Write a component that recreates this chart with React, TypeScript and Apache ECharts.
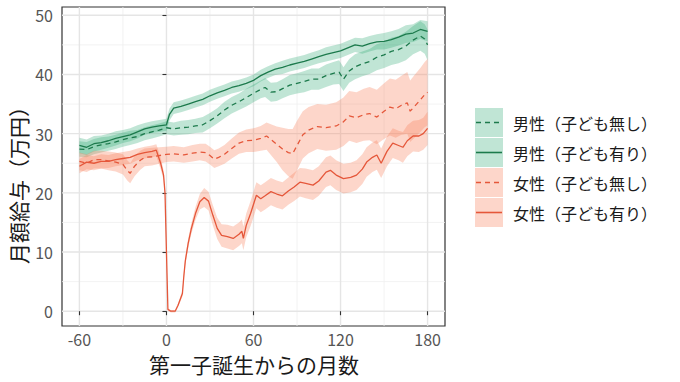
import React, { useEffect, useRef } from "react";
import * as echarts from "echarts";

// [month since first birth, monthly wage (10k yen), half-width of confidence band]
type Pt = [number, number, number];

const maleNoKids: Pt[] = [
  [-60, 27.4, 1.3], [-55, 27.3, 1.3], [-50, 27.8, 1.3], [-45, 28.1, 1.3], [-40, 28.3, 1.2],
  [-35, 28.6, 1.2], [-30, 29.0, 1.2], [-25, 29.3, 1.2], [-20, 29.5, 1.1], [-15, 30.0, 1.1],
  [-10, 30.3, 1.1], [-5, 30.6, 1.1], [0, 31.0, 1.1], [5, 30.8, 1.1], [10, 31.0, 1.2],
  [15, 31.1, 1.2], [20, 31.3, 1.2], [25, 31.5, 1.3], [30, 32.2, 1.3], [35, 33.0, 1.3],
  [40, 34.0, 1.4], [45, 34.8, 1.4], [50, 35.4, 1.4], [55, 36.1, 1.5], [60, 36.8, 1.5],
  [65, 37.5, 1.5], [68, 37.8, 1.6], [72, 37.0, 1.6], [76, 37.1, 1.6], [80, 37.6, 1.6],
  [85, 38.2, 1.7], [90, 38.5, 1.7], [95, 38.8, 1.8], [100, 39.2, 1.8], [105, 39.2, 1.8],
  [110, 39.8, 1.9], [115, 40.2, 1.9], [119, 40.4, 2.0], [122, 39.2, 2.0], [126, 40.6, 2.0],
  [130, 41.3, 2.1], [135, 41.8, 2.1], [140, 42.2, 2.1], [145, 42.9, 2.2], [150, 43.3, 2.2],
  [155, 43.9, 2.3], [160, 44.2, 2.3], [165, 44.8, 2.4], [170, 45.8, 2.4], [175, 46.5, 2.5],
  [178, 46.0, 2.5], [180, 45.0, 2.6],
];

const maleWithKids: Pt[] = [
  [-60, 28.0, 1.3], [-55, 27.7, 1.3], [-50, 28.3, 1.3], [-45, 28.5, 1.2], [-40, 28.8, 1.2],
  [-35, 29.2, 1.2], [-30, 29.5, 1.1], [-25, 29.8, 1.1], [-20, 30.3, 1.1], [-15, 30.8, 1.0],
  [-10, 31.1, 1.0], [-5, 31.3, 1.0], [0, 31.5, 1.0], [2, 33.2, 1.0], [5, 34.3, 1.0],
  [10, 34.6, 1.0], [15, 35.0, 1.0], [20, 35.4, 1.0], [25, 35.8, 1.0], [30, 36.4, 1.0],
  [35, 36.9, 1.0], [40, 37.3, 1.0], [45, 37.8, 1.0], [50, 38.1, 1.0], [55, 38.5, 1.0],
  [60, 39.0, 1.0], [65, 39.8, 1.0], [70, 40.4, 1.0], [75, 40.9, 1.0], [80, 41.2, 1.1],
  [85, 41.6, 1.1], [90, 41.9, 1.1], [95, 42.2, 1.1], [100, 42.6, 1.1], [105, 43.0, 1.1],
  [110, 43.4, 1.2], [115, 43.7, 1.2], [120, 44.0, 1.2], [125, 44.5, 1.2], [130, 45.0, 1.2],
  [135, 44.8, 1.3], [140, 45.2, 1.3], [145, 45.5, 1.3], [150, 45.6, 1.4], [155, 45.9, 1.4],
  [160, 46.3, 1.4], [165, 46.8, 1.5], [170, 47.0, 1.5], [175, 47.6, 1.6], [180, 47.3, 1.7],
];

const femaleNoKids: Pt[] = [
  [-60, 25.3, 1.5], [-55, 25.0, 1.5], [-50, 25.6, 1.5], [-45, 25.6, 1.5], [-40, 25.4, 1.6],
  [-35, 25.2, 1.6], [-30, 24.8, 1.7], [-27, 23.8, 1.7], [-25, 23.3, 1.7], [-22, 24.5, 1.7],
  [-18, 25.5, 1.6], [-15, 26.0, 1.5], [-10, 26.1, 1.5], [-5, 26.3, 1.4], [0, 26.5, 1.3],
  [5, 26.6, 1.3], [12, 26.4, 1.3], [18, 26.7, 1.4], [23, 26.9, 1.4], [27, 26.8, 1.5],
  [30, 26.3, 1.5], [33, 25.7, 1.5], [36, 26.0, 1.5], [40, 26.5, 1.6], [45, 27.5, 1.7],
  [50, 28.4, 1.8], [55, 28.8, 1.9], [60, 28.9, 2.0], [65, 29.2, 2.1], [69, 29.6, 2.3],
  [72, 29.0, 2.6], [76, 28.2, 3.0], [80, 27.4, 3.6], [84, 26.8, 4.0], [87, 26.6, 4.2],
  [90, 28.0, 4.2], [94, 29.8, 4.0], [98, 30.6, 3.9], [104, 31.2, 3.8], [110, 31.0, 3.9],
  [117, 31.3, 4.0], [122, 32.0, 4.1], [126, 33.0, 4.2], [131, 32.7, 4.3], [136, 33.2, 4.4],
  [140, 33.4, 4.5], [145, 32.8, 4.6], [150, 33.8, 4.7], [154, 34.5, 4.8], [158, 34.2, 4.9],
  [162, 34.8, 5.0], [166, 35.2, 5.2], [168, 33.8, 5.2], [171, 34.6, 5.3], [175, 35.7, 5.4],
  [178, 36.6, 5.5], [180, 37.0, 5.6],
];

const femaleWithKids: Pt[] = [
  [-60, 24.5, 1.2], [-55, 25.2, 1.2], [-50, 25.0, 1.2], [-45, 25.3, 1.2], [-40, 25.3, 1.1],
  [-35, 25.6, 1.1], [-30, 25.8, 1.1], [-25, 26.0, 1.1], [-20, 26.5, 1.0], [-15, 26.8, 1.0],
  [-10, 27.0, 1.0], [-7, 27.2, 1.0], [-4, 25.0, 1.0], [-2, 23.0, 0.8], [-1, 20.0, 0.6],
  [0, 10.0, 0.4], [1, 0.3, 0.2], [3, 0.0, 0.2], [6, 0.0, 0.2], [8, 1.0, 0.3],
  [11, 3.0, 0.5], [12, 6.0, 0.6], [13, 8.5, 0.7], [15, 11.5, 0.8], [17, 13.8, 0.9],
  [20, 16.5, 1.1], [23, 18.5, 1.3], [26, 19.2, 1.6], [29, 18.6, 1.6], [32, 16.2, 1.7],
  [35, 14.0, 1.8], [38, 12.8, 1.9], [42, 12.6, 2.0], [46, 12.3, 2.0], [50, 13.0, 2.0],
  [52, 13.5, 2.0], [53, 12.3, 2.0], [55, 14.5, 2.0], [58, 16.5, 2.1], [62, 19.6, 2.2],
  [65, 19.0, 2.3], [68, 19.5, 2.3], [72, 20.2, 2.3], [76, 19.8, 2.3], [80, 19.5, 2.3],
  [84, 20.3, 2.3], [88, 21.0, 2.4], [92, 21.8, 2.4], [96, 21.6, 2.5], [101, 21.3, 2.5],
  [105, 22.0, 2.5], [110, 23.5, 2.5], [113, 23.8, 2.5], [117, 23.0, 2.5], [122, 22.4, 2.5],
  [127, 22.6, 2.5], [131, 23.0, 2.5], [135, 24.0, 2.5], [138, 25.2, 2.5], [142, 26.0, 2.5],
  [145, 26.4, 2.5], [148, 25.0, 2.5], [152, 27.0, 2.5], [156, 28.4, 2.5], [160, 28.0, 2.5],
  [163, 27.7, 2.6], [166, 28.8, 2.6], [170, 29.6, 2.6], [174, 29.6, 2.7], [177, 30.0, 2.7],
  [180, 30.9, 2.8],
];

const seriesNames = ["男性（子ども無し）", "男性（子ども有り）", "女性（子ども無し）", "女性（子ども有り）"];
const xTicks = [-60, 0, 60, 120, 180];
const xMinor = [-30, 30, 90, 150];
const yTicks = [0, 10, 20, 30, 40, 50];
const yMinor = [5, 15, 25, 35, 45];
const xTitle = "第一子誕生からの月数";
const yTitle = "月額給与（万円）";

const X_MIN = -72;
const X_MAX = 192;
const Y_MIN = -2.5;
const Y_MAX = 51.4;

const GREEN = "#1c7a4c";
const RED = "#e5573a";
const GREEN_FILL = "rgba(45,168,115,0.3)";
const RED_FILL = "rgba(248,130,95,0.33)";
const FONT = "'Noto Sans CJK JP', 'Noto Sans', sans-serif";

const styles = [
  { line: GREEN, fill: GREEN_FILL, dashed: true },
  { line: GREEN, fill: GREEN_FILL, dashed: false },
  { line: RED, fill: RED_FILL, dashed: true },
  { line: RED, fill: RED_FILL, dashed: false },
];
const allData = [maleNoKids, maleWithKids, femaleNoKids, femaleWithKids];

export default function App() {
  const ref = useRef<HTMLDivElement>(null);
  useEffect(() => {
    if (!ref.current) return;
    const chart = echarts.init(ref.current, null, { renderer: "svg" });

    const gridSeries = (vals: number[], vertical: boolean, major: boolean) => ({
      type: "custom",
      silent: true,
      z: 0,
      data: vals.map((v) => (vertical ? [v, 0] : [0, v])),
      renderItem: (params: any, api: any) => {
        const a = vertical ? api.coord([api.value(0), Y_MIN]) : api.coord([X_MIN, api.value(1)]);
        const b = vertical ? api.coord([api.value(0), Y_MAX]) : api.coord([X_MAX, api.value(1)]);
        return {
          type: "line",
          shape: { x1: a[0], y1: a[1], x2: b[0], y2: b[1] },
          style: { stroke: major ? "#e5e5e5" : "#efefef", lineWidth: major ? 1.4 : 0.8 },
        };
      },
    });

    const bandSeries = allData.map((pts, i) => ({
      type: "custom",
      name: seriesNames[i] + " band",
      silent: true,
      z: 1,
      data: pts.map((p) => [p[0], p[1], p[2]]),
      encode: { x: 0, y: 1 },
      renderItem: (params: any, api: any) => {
        if (params.dataIndex !== 0) return null;
        const up = pts.map((p) => api.coord([p[0], p[1] + p[2]]));
        const lo = pts.map((p) => api.coord([p[0], p[1] - p[2]])).reverse();
        return {
          type: "polygon",
          shape: { points: up.concat(lo) },
          style: { fill: styles[i].fill, stroke: "none" },
        };
      },
    }));

    const lineSeries = allData.map((pts, i) => ({
      type: "line",
      name: seriesNames[i],
      z: 3,
      data: pts.map((p) => [p[0], p[1]]),
      showSymbol: false,
      symbol: "none",
      silent: true,
      lineStyle: {
        color: styles[i].line,
        width: 1.3,
        type: styles[i].dashed ? [5, 4] : "solid",
      },
    }));

    const legendEls: any[] = [];
    seriesNames.forEach((name, i) => {
      const y0 = 108 + 30 * i;
      legendEls.push({
        type: "rect",
        shape: { x: 475, y: y0, width: 28, height: 29 },
        style: { fill: styles[i].fill },
      });
      legendEls.push({
        type: "line",
        shape: { x1: 476, y1: y0 + 14.5, x2: 502, y2: y0 + 14.5 },
        style: {
          stroke: styles[i].line,
          lineWidth: 1.6,
          lineDash: styles[i].dashed ? [5, 4] : null,
        },
      });
      legendEls.push({
        type: "text",
        x: 513,
        y: y0 + 15,
        style: {
          text: name,
          font: `16px ${FONT}`,
          fill: "#1a1a1a",
          verticalAlign: "middle",
          align: "left",
        },
      });
    });

    const option: any = {
      animation: false,
      backgroundColor: "#ffffff",
      grid: {
        left: 62,
        top: 7,
        width: 383,
        height: 319,
        show: true,
        borderColor: "#333333",
        borderWidth: 1.2,
        backgroundColor: "transparent",
      },
      xAxis: {
        type: "value",
        min: X_MIN,
        max: X_MAX,
        axisLine: { show: false },
        splitLine: { show: false },
        axisTick: {
          show: true,
          customValues: xTicks,
          length: 4,
          lineStyle: { color: "#333333", width: 1.1 },
        },
        axisLabel: {
          customValues: xTicks,
          margin: 5,
          fontSize: 16,
          color: "#555555",
          fontFamily: FONT,
        },
      },
      yAxis: {
        type: "value",
        min: Y_MIN,
        max: Y_MAX,
        axisLine: { show: false },
        splitLine: { show: false },
        axisTick: {
          show: true,
          customValues: yTicks,
          length: 4,
          lineStyle: { color: "#333333", width: 1.1 },
        },
        axisLabel: {
          customValues: yTicks,
          margin: 9,
          fontSize: 16,
          color: "#555555",
          fontFamily: FONT,
        },
      },
      graphic: [
        {
          type: "text",
          x: 254,
          y: 364,
          style: {
            text: xTitle,
            font: `21px ${FONT}`,
            fill: "#1a1a1a",
            align: "center",
            verticalAlign: "middle",
          },
        },
        {
          type: "text",
          x: 18,
          y: 180,
          rotation: Math.PI / 2,
          style: {
            text: yTitle,
            font: `21px ${FONT}`,
            fill: "#1a1a1a",
            align: "center",
            verticalAlign: "middle",
          },
        },
        ...legendEls,
      ],
      series: [
        gridSeries(xMinor, true, false),
        gridSeries(yMinor, false, false),
        gridSeries(xTicks, true, true),
        gridSeries(yTicks, false, true),
        ...bandSeries,
        ...lineSeries,
      ],
    };
    chart.setOption(option);
    return () => chart.dispose();
  }, []);

  return (
    <div
      ref={ref}
      style={{ position: "absolute", left: 0, top: 0, width: 680, height: 382 }}
    />
  );
}
